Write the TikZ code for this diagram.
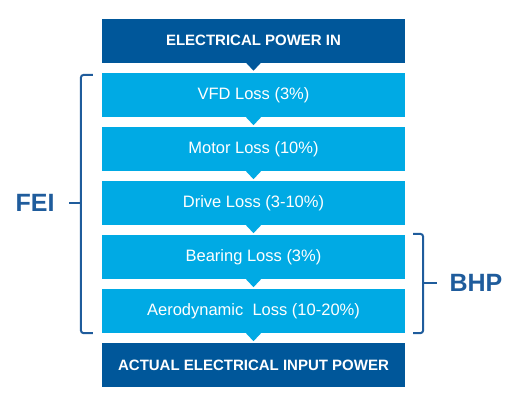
\documentclass[tikz,border=0pt]{standalone}
\usepackage{fontspec}
\setmainfont{Liberation Sans}
\usetikzlibrary{calc}
\definecolor{dkblue}{HTML}{00579A}
\definecolor{ltblue}{HTML}{00AAE4}
\definecolor{brk}{HTML}{1F5C9C}
\tikzset{
  stagebox/.style={minimum width=303pt, minimum height=44pt, inner sep=0pt, text=white},
  darkbox/.style={stagebox, fill=dkblue, font=\bfseries\fontsize{15}{17}\selectfont},
  lightbox/.style={stagebox, fill=ltblue, font=\fontsize{16.5}{19}\selectfont},
  bracketline/.style={draw=brk, line width=2pt, rounded corners=3pt},
  sidelabel/.style={text=brk, font=\bfseries\fontsize{25}{29}\selectfont, inner sep=0pt},
}
\newcommand{\downtri}[2]{\fill[#2] ($(#1.south)+(-7.5,0)$) -- ($(#1.south)+(7.5,0)$) -- ($(#1.south)+(0,8)$) -- cycle;}
\begin{document}
\begin{tikzpicture}[x=1pt,y=-1pt]
\useasboundingbox (0,0) rectangle (505,400);
\node[darkbox]  (in)   at (253.5,40.5) {ELECTRICAL POWER IN};
\node[lightbox] (vfd)  at (253.5,95)   {VFD Loss (3\%)};
\node[lightbox] (mot)  at (253.5,149)  {Motor Loss (10\%)};
\node[lightbox] (drv)  at (253.5,203)  {Drive Loss (3-10\%)};
\node[lightbox] (brg)  at (253.5,257)  {Bearing Loss (3\%)};
\node[lightbox] (aero) at (253.5,311)  {Aerodynamic\ \ Loss (10-20\%)};
\node[darkbox]  (out)  at (253.5,365)  {ACTUAL ELECTRICAL INPUT POWER};
\downtri{in}{dkblue}
\downtri{vfd}{ltblue}
\downtri{mot}{ltblue}
\downtri{drv}{ltblue}
\downtri{brg}{ltblue}
\downtri{aero}{ltblue}
% FEI bracket
\coordinate (fa) at ($(vfd.north west)+(-9,2)$);
\coordinate (fb) at ($(aero.south west)+(-9,0)$);
\path[bracketline] (fa) -- ($(fa)+(-12,0)$) -- ($(fb)+(-12,0)$) -- (fb);
\coordinate (fm) at ($(drv.west)+(-21,0)$);
\path[draw=brk, line width=2pt] (fm) -- ++(-12,0);
\node[sidelabel] (fei) at (35,203) {FEI};
% BHP bracket
\coordinate (ba) at ($(brg.north east)+(8,-1)$);
\coordinate (bb) at ($(aero.south east)+(8,0)$);
\path[bracketline] (ba) -- ($(ba)+(10,0)$) -- ($(bb)+(10,0)$) -- (bb);
\coordinate (bm) at ($(brg.south east)+(18,4)$);
\path[draw=brk, line width=2pt] (bm) -- ++(14,0);
\node[sidelabel] (bhp) at (476,283) {BHP};
\end{tikzpicture}
\end{document}
